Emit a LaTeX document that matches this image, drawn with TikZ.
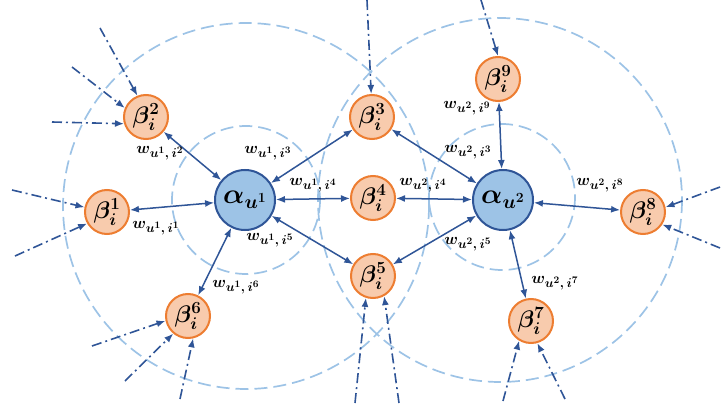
\RequirePackage{fix-cm}
\documentclass[tikz,border=0pt]{standalone}
\usetikzlibrary{arrows.meta}
\definecolor{ablue}{HTML}{2F5597}
\definecolor{afill}{HTML}{9DC3E6}
\definecolor{bfill}{HTML}{F8CBAD}
\definecolor{bline}{HTML}{ED7D31}
\definecolor{ringc}{HTML}{9DC3E6}
\DeclareMathSizes{16}{16}{13}{10}
\DeclareMathSizes{24}{24}{17}{12.5}
\begin{document}
\begin{tikzpicture}[x=1pt,y=-1pt,
 alphanode/.style={circle, draw=ablue, fill=afill, line width=2pt, minimum size=60pt, inner sep=0pt, font=\fontsize{28}{30}\selectfont\boldmath},
 betanode/.style={circle, draw=bline, fill=bfill, line width=2pt, minimum size=44pt, inner sep=0pt, font=\fontsize{24}{25}\selectfont\boldmath},
 wlabel/.style={font=\fontsize{16}{17}\selectfont\boldmath, inner sep=0pt},
 ringline/.style={draw=ringc, line width=1.7pt, dash pattern=on 13pt off 6pt},
 link/.style={draw=ablue, line width=1.5pt, {Latex[length=9pt,width=7pt]}-{Latex[length=9pt,width=7pt]}},
 feed/.style={draw=ablue, line width=1.6pt, dash pattern=on 10pt off 4pt on 2pt off 4pt, -{Latex[length=9pt,width=7pt]}}]
\useasboundingbox (0,0) rectangle (721,412);
% dashed rings
\draw[ringline] (246,206) circle[radius=183];
\draw[ringline] (500,200) circle[radius=182];
\draw[ringline] (246,200) circle[radius=74];
\draw[ringline] (502,197) circle[radius=73];
% nodes
\node[alphanode] (a1) at (245,200) {$\alpha_{u^{1}}$};
\node[alphanode] (a2) at (503,200) {$\alpha_{u^{2}}$};
\node[betanode] (b1) at (107,212) {$\beta_i^1$};
\node[betanode] (b2) at (146,117) {$\beta_i^2$};
\node[betanode] (b3) at (372,117) {$\beta_i^3$};
\node[betanode] (b4) at (373,198) {$\beta_i^4$};
\node[betanode] (b5) at (373,276) {$\beta_i^5$};
\node[betanode] (b6) at (188,316) {$\beta_i^6$};
\node[betanode] (b7) at (531,321) {$\beta_i^7$};
\node[betanode] (b8) at (643,212) {$\beta_i^8$};
\node[betanode] (b9) at (498,79) {$\beta_i^9$};
% solid links
\draw[link] (a1) -- (b1);
\draw[link] (a1) -- (b2);
\draw[link] (a1) -- (b3);
\draw[link] (a1) -- (b4);
\draw[link] (a1) -- (b5);
\draw[link] (a1) -- (b6);
\draw[link] (a2) -- (b3);
\draw[link] (a2) -- (b4);
\draw[link] (a2) -- (b5);
\draw[link] (a2) -- (b7);
\draw[link] (a2) -- (b8);
\draw[link] (a2) -- (b9);
% labels
\node[wlabel] (l12) at (160,153) {$w_{u^{1},\,i^{2}}$};
\node[wlabel] (l13) at (268,153) {$w_{u^{1},\,i^{3}}$};
\node[wlabel] (l14) at (313,185) {$w_{u^{1},\,i^{4}}$};
\node[wlabel] (l11) at (156,228) {$w_{u^{1},\,i^{1}}$};
\node[wlabel] (l15) at (270,240) {$w_{u^{1},\,i^{5}}$};
\node[wlabel] (l16) at (236,287) {$w_{u^{1},\,i^{6}}$};
\node[wlabel] (l29) at (467,108) {$w_{u^{2},\,i^{9}}$};
\node[wlabel] (l23) at (468,152) {$w_{u^{2},\,i^{3}}$};
\node[wlabel] (l24) at (423,185) {$w_{u^{2},\,i^{4}}$};
\node[wlabel] (l28) at (600,185) {$w_{u^{2},\,i^{8}}$};
\node[wlabel] (l25) at (468,244) {$w_{u^{2},\,i^{5}}$};
\node[wlabel] (l27) at (555,283) {$w_{u^{2},\,i^{7}}$};
% free ends of incoming dash-dot arrows
\coordinate (s2a) at (100,28);
\coordinate (s2b) at (72,67);
\coordinate (s2c) at (52,122);
\coordinate (s1a) at (12,190);
\coordinate (s1b) at (15,256);
\coordinate (s6a) at (92,346);
\coordinate (s6b) at (125,381);
\coordinate (s6c) at (180,399);
\coordinate (s3a) at (367,0);
\coordinate (s9a) at (481,0);
\coordinate (s8a) at (720,187);
\coordinate (s8b) at (720,248);
\coordinate (s7a) at (503,401);
\coordinate (s7b) at (565,399);
\coordinate (s5a) at (355,403);
\coordinate (s5b) at (399,403);
\draw[feed] (s2a) -- (b2.112);
\draw[feed] (s2b) -- (b2.157);
\draw[feed] (s2c) -- (b2.197);
\draw[feed] (s1a) -- (b1.168);
\draw[feed] (s1b) -- (b1.210);
\draw[feed] (s6a) -- (b6.192);
\draw[feed] (s6b) -- (b6.230);
\draw[feed] (s6c) -- (b6.283);
\draw[feed] (s3a) -- (b3.92);
\draw[feed] (s9a) -- (b9.90);
\draw[feed] (s8a) -- (b8.12);
\draw[feed] (s8b) -- (b8.-33);
\draw[feed] (s7a) -- (b7.239);
\draw[feed] (s7b) -- (b7.286);
\draw[feed] (s5a) -- (b5.252);
\draw[feed] (s5b) -- (b5.299);
\end{tikzpicture}
\end{document}
